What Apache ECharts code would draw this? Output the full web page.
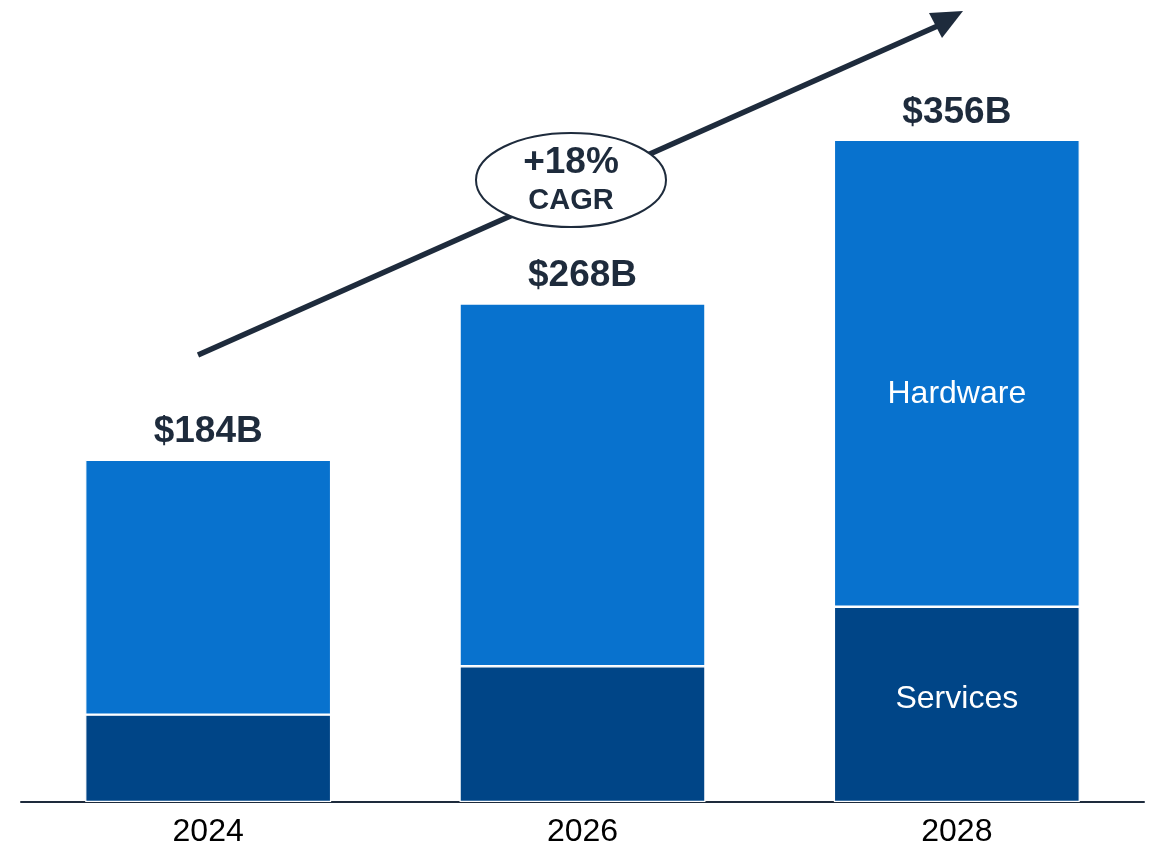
<!DOCTYPE html>
<html>
<head>
<meta charset="utf-8">
<script src="https://cdn.jsdelivr.net/npm/echarts@6/dist/echarts.min.js"></script>
<style>html,body{margin:0;padding:0;background:#fff;}#c{width:1161px;height:848px;}</style>
</head>
<body>
<div id="c"></div>
<script>
const years = ['2024', '2026', '2028'];
const services = [47, 73, 105];
const hardware = [137, 195, 251];
const totalLabels = ['$184B', '$268B', '$356B'];
const cagrText = '+18%';
const cagrSub = 'CAGR';

const dark = '#1e2b3c';
const font = 'Liberation Sans, Arial, sans-serif';

const chart = echarts.init(document.getElementById('c'));
chart.setOption({
  animation: false,
  grid: { left: 21, right: 17, top: 58, bottom: 45 },
  xAxis: {
    type: 'category', data: years,
    axisLine: { lineStyle: { color: dark, width: 2 } },
    axisTick: { show: false },
    axisLabel: { color: '#000', fontSize: 32, fontFamily: font, margin: 14 }
  },
  yAxis: { type: 'value', min: 0, max: 400, show: false, splitLine: { show: false } },
  series: [
    {
      name: 'Services', type: 'bar', stack: 't', barWidth: '65.7%',
      itemStyle: { color: '#004587', borderColor: '#fff', borderWidth: 1.2 },
      data: services.map((v, i) => ({
        value: v,
        label: i === 2 ? { show: true, position: 'inside', formatter: 'Services', color: '#fff', fontSize: 32, fontFamily: font, offset: [0, -5] } : { show: false }
      }))
    },
    {
      name: 'Hardware', type: 'bar', stack: 't',
      itemStyle: { color: '#0872ce', borderColor: '#fff', borderWidth: 1.2 },
      data: hardware.map((v, i) => i === 2 ? {
        value: v,
        label: { show: true, position: 'inside', formatter: 'Hardware', color: '#fff', fontSize: 32, fontFamily: font, offset: [0, 21] }
      } : v)
    },
    {
      name: 'Total', type: 'bar', stack: 't', silent: true,
      itemStyle: { color: 'transparent', borderWidth: 0 },
      label: {
        show: true, position: 'top', distance: 9,
        formatter: p => totalLabels[p.dataIndex],
        color: dark, fontSize: 37, fontWeight: 'bold', fontFamily: font
      },
      data: years.map(() => 0)
    }
  ],
  graphic: [
    { type: 'line', shape: { x1: 198, y1: 355, x2: 942, y2: 24 }, style: { stroke: dark, lineWidth: 5.5 } },
    { type: 'polygon', shape: { points: [[963, 11], [929, 13], [942, 38]] }, style: { fill: dark } },
    { type: 'ellipse', shape: { cx: 571, cy: 180, rx: 95, ry: 47 }, style: { fill: '#fff', stroke: dark, lineWidth: 2 } },
    { type: 'text', x: 571, y: 163, style: { text: cagrText, fill: dark, font: 'bold 37px ' + font, align: 'center', verticalAlign: 'middle' } },
    { type: 'text', x: 571, y: 201, style: { text: cagrSub, fill: dark, font: 'bold 29px ' + font, align: 'center', verticalAlign: 'middle' } }
  ]
});
</script>
</body>
</html>
